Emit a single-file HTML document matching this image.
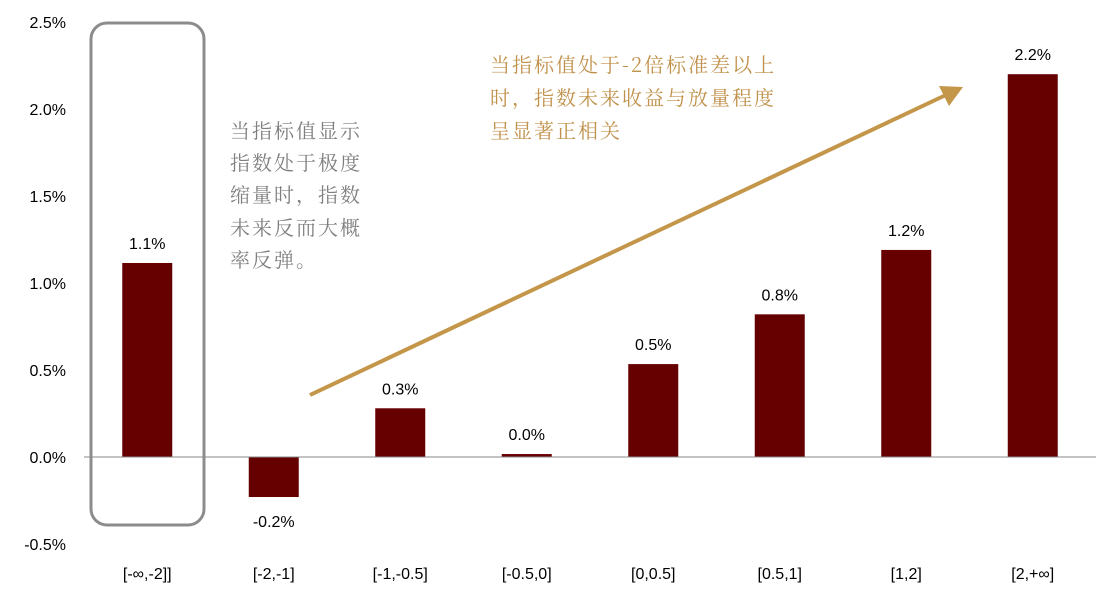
<!DOCTYPE html>
<html><head><meta charset="utf-8"><style>
html,body{margin:0;padding:0;background:#fff;}
svg{display:block;font-family:"Liberation Sans","Noto Sans CJK SC",sans-serif;}
</style></head><body>
<svg id="chart" width="1110" height="594" viewBox="0 0 1110 594" xmlns="http://www.w3.org/2000/svg">
<g id="yaxis"></g>
<g id="bars"></g>
<g id="xaxis"></g>
<rect x="91" y="23" width="113" height="502" rx="16" fill="none" stroke="#8c8c8c" stroke-width="3"/>
<text font-family="'Noto Serif CJK SC','Liberation Serif',serif" font-size="20" fill="#7f7f7f" letter-spacing="2">
<tspan x="230" y="138">当指标值显示</tspan><tspan x="230" y="170">指数处于极度</tspan><tspan x="230" y="202">缩量时，指数</tspan><tspan x="230" y="235">未来反而大概</tspan><tspan x="230" y="267">率反弹。</tspan></text>
<text font-family="'Noto Serif CJK SC','Liberation Serif',serif" font-size="20" fill="#c0914a" letter-spacing="2">
<tspan x="490" y="72">当指标值处于-2倍标准差以上</tspan><tspan x="490" y="105">时，指数未来收益与放量程度</tspan><tspan x="490" y="138">呈显著正相关</tspan></text>
<line x1="310" y1="395" x2="948" y2="94" stroke="#c4964a" stroke-width="4"/>
<polygon points="963,87 949,106 939,86" fill="#c4964a"/>
</svg>
<script>
const categories=["[-∞,-2]]","[-2,-1]","[-1,-0.5]","[-0.5,0]","[0,0.5]","[0.5,1]","[1,2]","[2,+∞]"];
const values=[1.115,-0.23,0.28,0.017,0.534,0.82,1.19,2.2];
const valueLabels=["1.1%","-0.2%","0.3%","0.0%","0.5%","0.8%","1.2%","2.2%"];
const yTicks=[2.5,2.0,1.5,1.0,0.5,0.0,-0.5];
const yTickLabels=["2.5%","2.0%","1.5%","1.0%","0.5%","0.0%","-0.5%"];
const NS="http://www.w3.org/2000/svg";
const x0=84,x1=1096,y0=457,pxPer=174;
const y=v=>y0-v*pxPer;
const step=(x1-x0)/categories.length;
const xc=i=>x0+step*(i+0.5);
function mk(t,a,p){const e=document.createElementNS(NS,t);for(const k in a)e.setAttribute(k,a[k]);p.appendChild(e);return e;}
const ya=document.getElementById('yaxis'),bg=document.getElementById('bars'),xa=document.getElementById('xaxis');
yTicks.forEach((t,i)=>{const e=mk('text',{x:66,y:y(t)+6,'text-anchor':'end','font-size':16,fill:'#000'},ya);e.textContent=yTickLabels[i];

});
values.forEach((v,i)=>{const top=Math.min(y(v),y0),h=Math.abs(y(v)-y0);
const r=mk('rect',{x:xc(i)-25,y:top,width:50,height:Math.max(h,1),fill:'#660000'},bg);


const ly=v>=0?y(v)-14:y(v)+30;
const l=mk('text',{x:xc(i),y:ly,'text-anchor':'middle','font-size':16,fill:'#000'},bg);l.textContent=valueLabels[i];


const c=mk('text',{x:xc(i),y:579,'text-anchor':'middle','font-size':16,fill:'#000'},xa);c.textContent=categories[i];

});
const ax=mk('line',{x1:x0,x2:x1,y1:y0,y2:y0,stroke:'#888','stroke-width':1},xa);


</script>
</body></html>
